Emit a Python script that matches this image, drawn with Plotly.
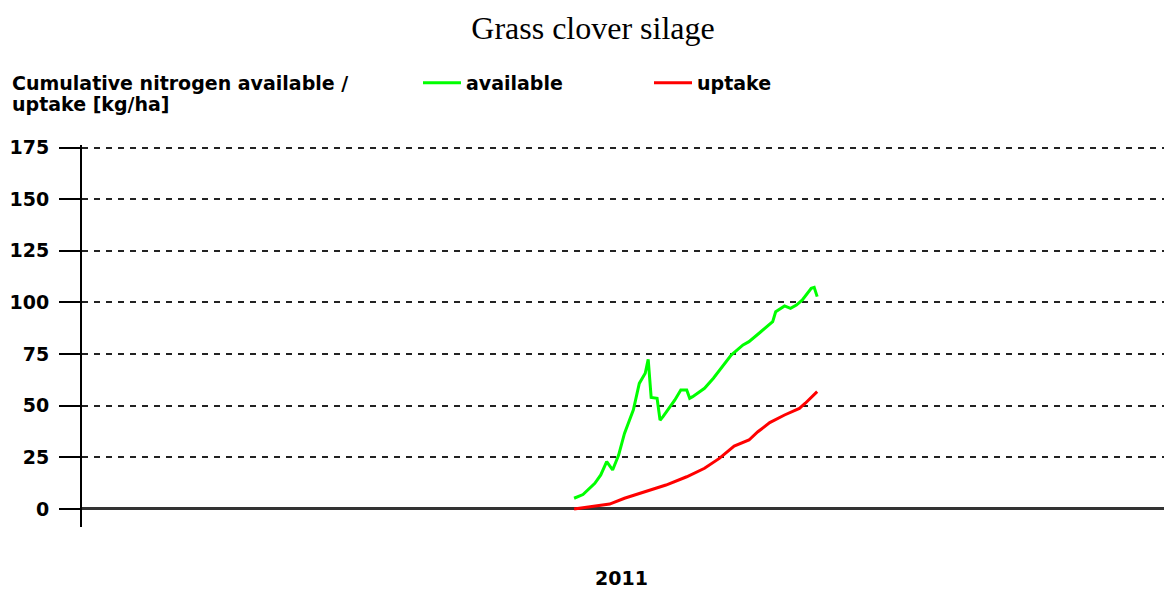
import plotly.graph_objects as go

# cumulative nitrogen (kg/ha)
available_dates = [
    "2011-06-16", "2011-06-19", "2011-06-23", "2011-06-25", "2011-06-27",
    "2011-06-29", "2011-07-01", "2011-07-03", "2011-07-06", "2011-07-08",
    "2011-07-10", "2011-07-11", "2011-07-12", "2011-07-14", "2011-07-15",
    "2011-07-16", "2011-07-20", "2011-07-22", "2011-07-24", "2011-07-25",
    "2011-07-26", "2011-07-30", "2011-08-02", "2011-08-05", "2011-08-08",
    "2011-08-12", "2011-08-14", "2011-08-18", "2011-08-22", "2011-08-23",
    "2011-08-26", "2011-08-28", "2011-08-30", "2011-09-01", "2011-09-04",
    "2011-09-05", "2011-09-06",
]
available = [
    5.2, 7.0, 12.4, 16.5, 22.9,
    18.9, 26.0, 36.6, 48.0, 60.8,
    65.7, 72.4, 54.0, 53.6, 43.0,
    44.7, 52.8, 57.6, 57.6, 53.6,
    54.4, 58.4, 63.3, 68.9, 74.5,
    79.4, 81.0, 85.8, 90.7, 95.5,
    98.3, 97.1, 98.7, 101.2, 106.8,
    107.3, 102.8,
]

uptake_dates = [
    "2011-06-16", "2011-06-24", "2011-06-28", "2011-07-03", "2011-07-10",
    "2011-07-17", "2011-07-24", "2011-07-30", "2011-08-04", "2011-08-09",
    "2011-08-14", "2011-08-17", "2011-08-21", "2011-08-26", "2011-08-31",
    "2011-09-02", "2011-09-06",
]
uptake = [
    0.0, 1.5, 2.4, 5.2, 8.4,
    11.6, 15.6, 19.7, 24.5, 30.5,
    33.4, 37.4, 41.8, 45.5, 48.7,
    51.2, 56.8,
]

y_ticks = [0, 25, 50, 75, 100, 125, 150, 175]
x_tick_dates = ["2011-07-02"]
x_tick_labels = ["2011"]
y_title_lines = ["Cumulative nitrogen available /", "uptake [kg/ha]"]

W, H = 1164, 592
L, R, T, B = 82, 0, 145, 65
PLOT_H = H - T - B
PLOT_W = W - L - R

BOLD = dict(family="DejaVu Sans", size=19, color="black", weight="bold")

fig = go.Figure()
fig.add_trace(go.Scatter(
    x=available_dates, y=available, mode="lines", name="available",
    line=dict(color="#00ff00", width=3),
))
fig.add_trace(go.Scatter(
    x=uptake_dates, y=uptake, mode="lines", name="uptake",
    line=dict(color="#ff0000", width=3),
))

fig.update_layout(
    width=W, height=H,
    margin=dict(l=L, r=R, t=T, b=B),
    paper_bgcolor="white", plot_bgcolor="white",
    title=dict(
        text="Grass clover silage", x=593 / W, xanchor="center",
        y=1 - 28 / H, yanchor="middle",
        font=dict(family="Liberation Serif", size=32, color="black"),
    ),
    legend=dict(
        orientation="h", yref="container", y=1 - 83 / H, yanchor="middle",
        xref="container", x=418 / W, xanchor="left",
        font=BOLD, entrywidth=178, entrywidthmode="pixels", itemwidth=38,
        bgcolor="rgba(0,0,0,0)",
    ),
    showlegend=True,
)

fig.update_xaxes(
    type="date", range=["2011-01-01", "2012-01-01"],
    showgrid=False, showline=False, zeroline=False, ticks="",
    tickvals=x_tick_dates, ticktext=x_tick_labels,
    tickfont=BOLD, ticklabelstandoff=38,
)

fig.update_yaxes(
    range=[-8.72, 176.21],
    tickvals=y_ticks, ticks="outside", ticklen=21, tickwidth=2, tickcolor="black",
    tickfont=BOLD, ticklabelstandoff=6,
    showline=True, linecolor="black", linewidth=2,
    showgrid=True, gridcolor="#222222", gridwidth=2, griddash="6px,6px",
    zeroline=True, zerolinecolor="#333333", zerolinewidth=3,
)

# two-line y axis title, placed top-left like the reference
for line_text, y_px in zip(y_title_lines, [83, 104]):
    fig.add_annotation(
        text=line_text, xref="paper", yref="paper",
        x=(10 - L) / PLOT_W, xanchor="left",
        y=(H - B - y_px) / PLOT_H, yanchor="middle",
        align="left", showarrow=False, font=BOLD,
    )

fig.write_html(
    "out.html",
    config={"displayModeBar": False},
    post_script="document.body.style.margin='0';document.body.style.overflow='hidden';",
)
